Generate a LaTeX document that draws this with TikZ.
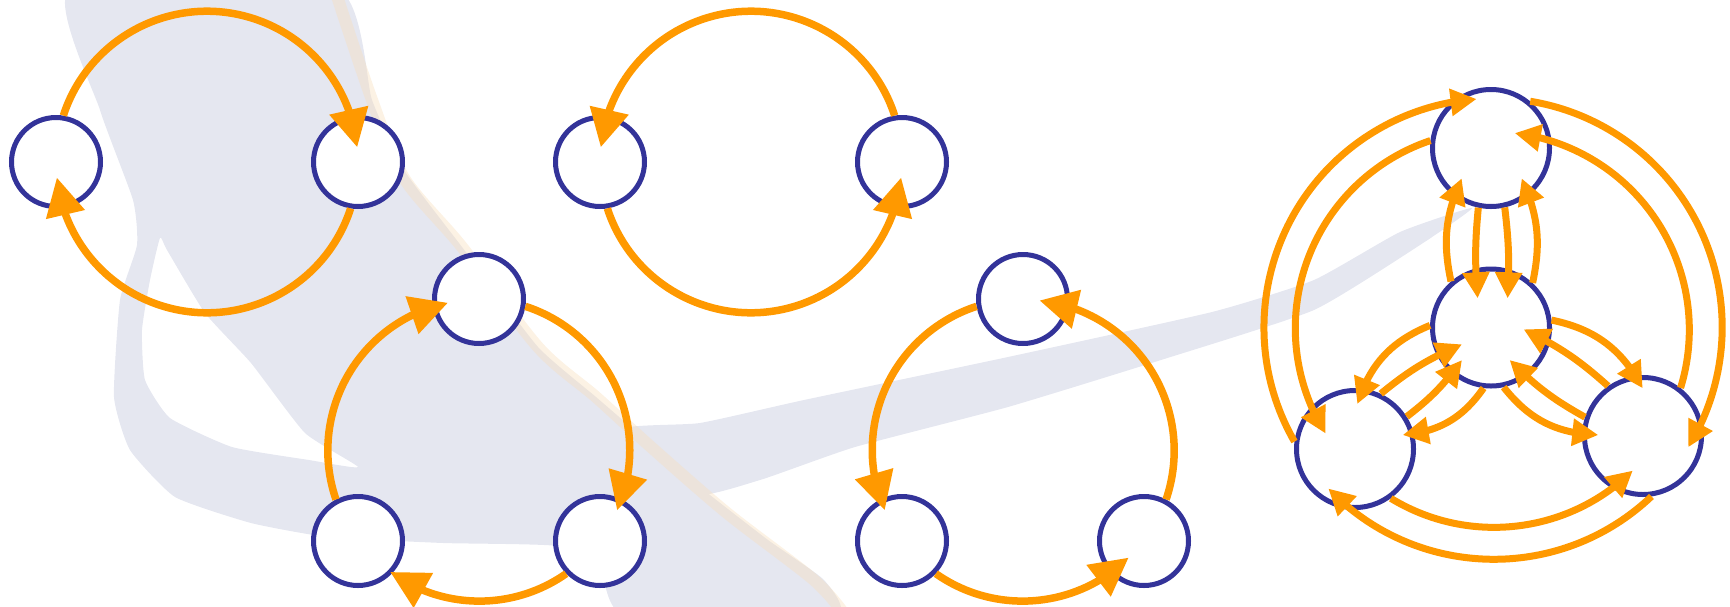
\documentclass[tikz,border=0pt]{standalone}
\usetikzlibrary{arrows.meta,bending}
\definecolor{arcorange}{RGB}{255,153,0}
\definecolor{nodeblue}{RGB}{51,51,153}
\definecolor{haze}{RGB}{229,231,240}
\definecolor{hazeorange}{RGB}{247,222,188}

\begin{document}
\begin{tikzpicture}[x=1pt,y=-1pt,
  vtx/.style={circle,draw=nodeblue,fill=white,line width=5pt,minimum size=89pt,inner sep=0pt},
  hub/.style={vtx,minimum size=117pt},
  link/.style={draw=arcorange,line width=7.5pt,-{Triangle[length=38pt,width=38pt,flex]}},
  slink/.style={draw=arcorange,line width=7pt,-{Triangle[length=26pt,width=26pt,flex]}},
]
\useasboundingbox (0,0) rectangle (1730,606);

% faint watermark swoosh in the background
\begin{scope}
  \clip (0,0) rectangle (1730,606);
  % broad diagonal band with its hooked lower end
  \fill[haze,even odd rule]
    plot[smooth cycle,tension=0.3] coordinates {
      (70,-10) (100,110) (133,200) (137,245) (120,300) (114,397) (130,450)
      (175,497) (251,523) (328,537) (443,543) (557,546) (600,570) (625,615)
      (835,615) (824,580) (768,540) (700,487) (640,435) (596,397) (538,347)
      (462,247) (404,170) (372,100) (338,-10)}
    plot[smooth cycle,tension=0.3] coordinates {
      (160,238) (150,280) (142,330) (145,380) (170,418) (232,447) (309,460)
      (358,467) (305,433) (251,363) (205,313) (167,250)};
  % long thin streak rising to the right
  \fill[haze]
    plot[smooth cycle,tension=0.3] coordinates {
      (620,430) (700,423) (804,400) (1008,357) (1212,312) (1314,280)
      (1400,232) (1472,208) (1420,245) (1314,310) (1161,360) (1008,407)
      (855,447) (760,480) (690,495)};
  % warm tint along the band's edge
  \draw[hazeorange,line width=12pt,opacity=0.4]
    plot[smooth,tension=0.5] coordinates {
      (335,-10) (372,100) (404,178) (462,247) (538,347) (596,397)
      (651,447) (727,513) (814,580) (845,615)};
\end{scope}

% two states
\node[vtx] (a1) at (56,162) {};
\node[vtx] (b1) at (358,162) {};
\node[vtx] (a2) at (600,162) {};
\node[vtx] (b2) at (902,162) {};

% three states
\node[vtx] (t3) at (479,299) {};
\node[vtx] (l3) at (358,541) {};
\node[vtx] (r3) at (600,541) {};
\node[vtx] (t4) at (1023,299) {};
\node[vtx] (l4) at (902,541) {};
\node[vtx] (r4) at (1144,541) {};

% four states with a hub
\node[hub] (T) at (1491,148) {};
\node[hub] (C) at (1491,327.5) {};
\node[hub] (L) at (1355,449) {};
\node[hub] (R) at (1643,436) {};

% clockwise pair
\draw[link] (a1.81) arc[start angle=198,end angle=354.3,radius=151];
\draw[link] (b1.-99) arc[start angle=18,end angle=174,radius=151];

% counter-clockwise pair
\draw[link] (b2.99) arc[start angle=-18,end angle=-174.3,radius=151];
\draw[link] (a2.-81) arc[start angle=162,end angle=6,radius=151];

% clockwise triangle
\draw[link] (l3.118) arc[start angle=161.1,end angle=258.2,radius=151];
\draw[link] (t3.-9) arc[start angle=-72,end angle=23.6,radius=151];
\draw[link] (r3.-136) arc[start angle=54.9,end angle=126.2,radius=151];

% counter-clockwise triangle
\draw[link] (t4.-171) arc[start angle=252,end angle=156.5,radius=151];
\draw[link] (l4.-44) arc[start angle=125.1,end angle=45.4,radius=151];
\draw[link] (r4.62) arc[start angle=18.9,end angle=-83.8,radius=151];

% outer ring (clockwise)
\draw[slink] (L.173) arc[start angle=150.1,end angle=265.9,radius=229];
\draw[slink] (T.50) arc[start angle=-80.7,end angle=31.6,radius=229];
\draw[slink] (R.-82) arc[start angle=46.5,end angle=136.3,radius=229];

% inner ring (counter-clockwise)
\draw[slink] (T.173) arc[start angle=251.5,end angle=147.9,radius=198];
\draw[slink] (L.-54) arc[start angle=121.4,end angle=45.5,radius=198];
\draw[slink] (R.52) arc[start angle=17.1,end angle=-83.2,radius=198];

% spokes between hub and top
\draw[slink] (C.131) to[bend left=18] ([shift={(-29.3,30.3)}]T.center);
\draw[slink] (T.-102) to[bend right=5] ([shift={(-13.4,-29.2)}]C.center);
\draw[slink] (T.-77) to[bend left=5] ([shift={(16.6,-29.2)}]C.center);
\draw[slink] (C.47) to[bend right=18] ([shift={(30.7,30.3)}]T.center);

% spokes between hub and lower left
\draw[slink] (C.178) to[bend right=25] ([shift={(2.3,-45)}]L.center);
\draw[slink] (L.65) to[bend left=8] ([shift={(-29,16.8)}]C.center);
\draw[slink] (L.32) to[bend right=8] ([shift={(-29,32.5)}]C.center);
\draw[slink] (C.-97) to[bend left=25] ([shift={(47.7,-14)}]L.center);

% spokes between hub and lower right
\draw[slink] (C.7) to[bend left=25] ([shift={(-0.3,-47.7)}]R.center);
\draw[slink] (R.125) to[bend right=8] ([shift={(32.6,1.8)}]C.center);
\draw[slink] (R.162) to[bend left=8] ([shift={(18.6,32.5)}]C.center);
\draw[slink] (C.-78) to[bend right=25] ([shift={(-44.7,-1)}]R.center);
\end{tikzpicture}
\end{document}
